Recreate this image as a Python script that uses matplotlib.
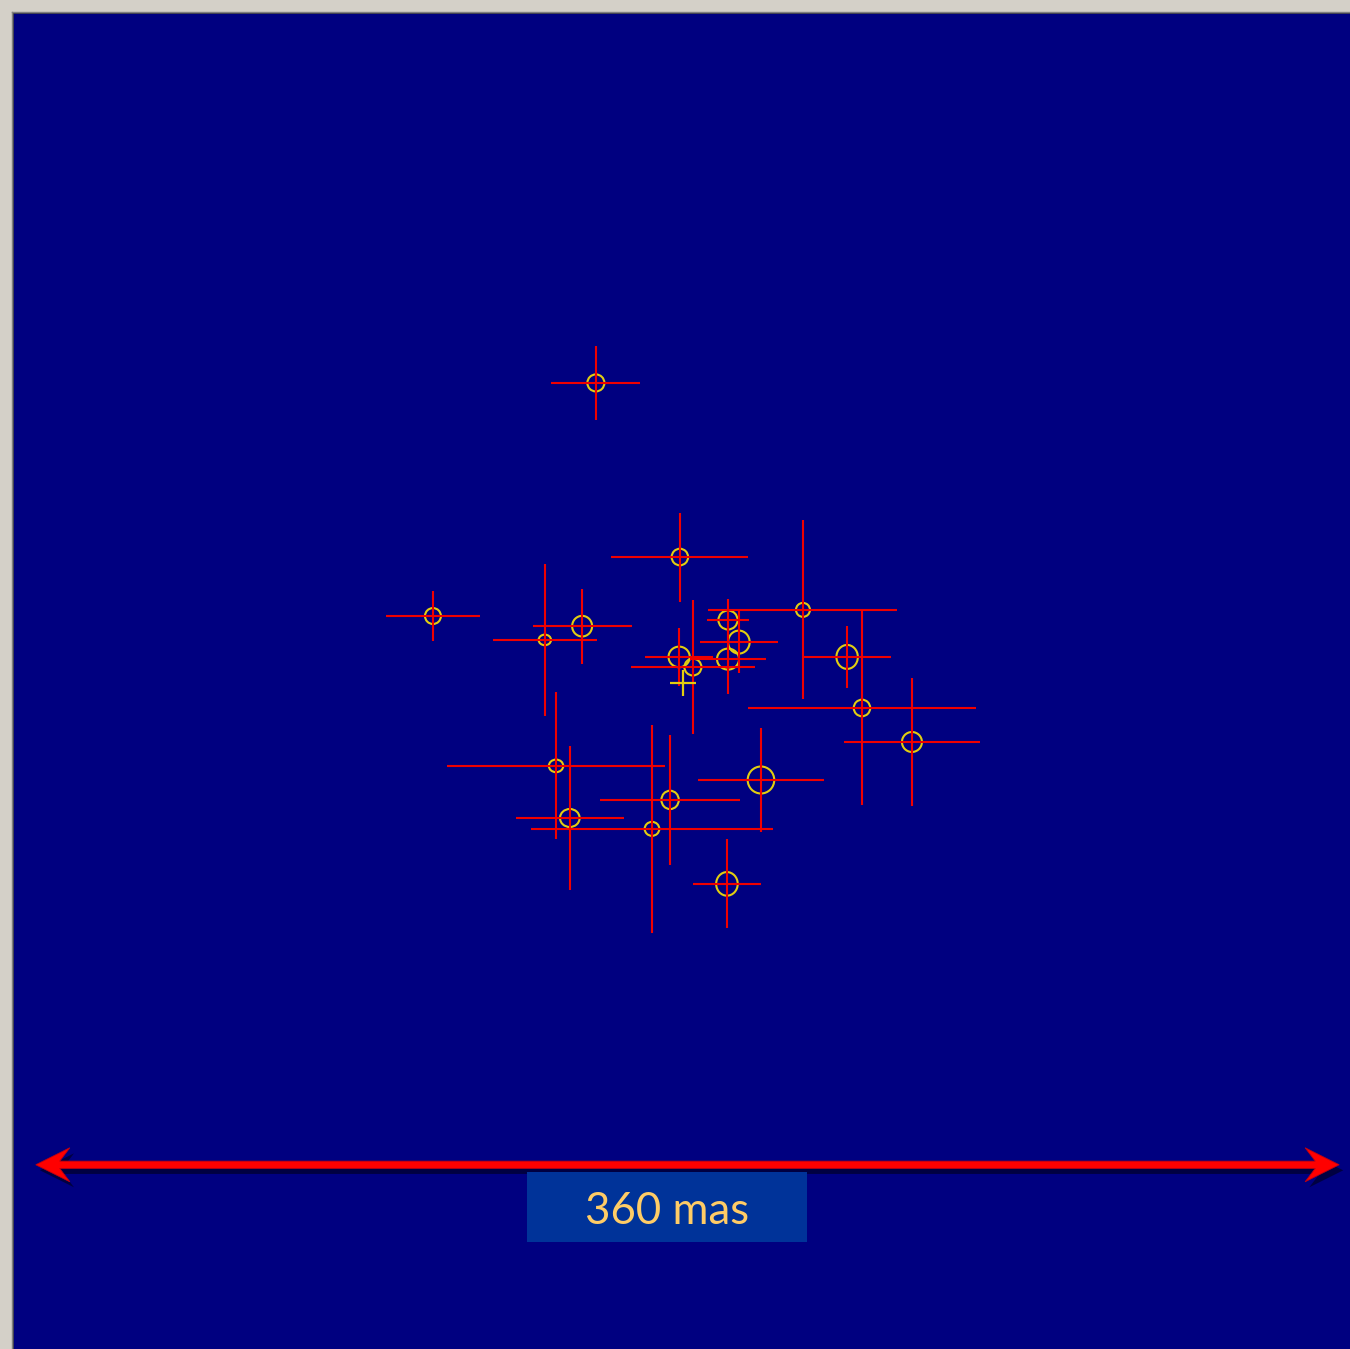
import matplotlib
matplotlib.use('Agg')
import matplotlib.pyplot as plt
from matplotlib.patches import Ellipse, Polygon, Rectangle
from matplotlib.lines import Line2D
import matplotlib.patheffects as pe
import numpy as np

# offsets of each component from the reference position, in mas
x_mas = [-24.2, -1.0, -69.2, -38.3, -28.0, 33.0, 12.3, 15.3, 12.3, -1.2,
         2.6, 45.2, 49.3, 63.1, -35.2, -31.4, -3.7, -8.7, 21.4, 12.0]
y_mas = [82.9, 34.8, 18.5, 11.9, 15.7, 20.2, 17.4, 11.3, 6.6, 7.2,
         4.4, 7.2, -6.9, -16.3, -22.9, -37.3, -32.3, -40.3, -26.8, -55.5]
x_err = [12.3, 18.9, 13.1, 14.4, 13.7, 26.1, 5.9, 10.8, 10.6, 9.4,
         17.1, 12.2, 31.4, 18.8, 30.0, 14.9, 19.3, 33.4, 17.3, 9.5]
y_err = [10.2, 12.3, 6.9, 21.0, 10.4, 24.7, 5.8, 8.6, 9.7, 8.1,
         18.6, 8.6, 26.7, 17.8, 20.3, 20.0, 18.0, 28.7, 14.4, 12.3]
# beam / circle semi-axes, mas
r_x = [2.35, 2.27, 2.2, 1.71, 2.76, 1.93, 2.65, 2.98, 3.04, 2.93,
       2.35, 2.96, 2.27, 2.76, 1.99, 2.71, 2.4, 2.02, 3.67, 2.98]
r_y = [2.35, 2.29, 2.2, 1.46, 2.85, 1.93, 2.62, 3.18, 2.9, 2.85,
       2.32, 3.31, 2.29, 2.76, 1.74, 2.49, 2.54, 1.93, 3.73, 3.26]

ref_pos = (0.0, 0.0)
scale_len = 360  # mas
scale_label = '360 mas'

navy = '#000080'
red = '#F00000'
yellow = '#E2CE10'

fig = plt.figure(figsize=(13.5, 13.49), dpi=100, facecolor='#D4D0C8')
W, H = 1350, 1349
ax = fig.add_axes([13 / W, 0, 1337 / W, 1336 / H])
ax.set_facecolor(navy)
ax.set_xlim(-185.2, 184.1)
ax.set_ylim(-184.0, 185.1)
ax.set_xticks([])
ax.set_yticks([])
for s in ('right', 'bottom'):
    ax.spines[s].set_visible(False)
for s in ('left', 'top'):
    ax.spines[s].set_color('#404040')
    ax.spines[s].set_linewidth(1.2)

# sunken panel edge
fig.add_artist(Line2D([11.5 / W, 11.5 / W], [0, 1 - 11.5 / H], color='#808080', lw=1.0))
fig.add_artist(Line2D([11.5 / W, 1], [1 - 11.5 / H, 1 - 11.5 / H], color='#808080', lw=1.0))

for x, y, rx, ry in zip(x_mas, y_mas, r_x, r_y):
    ax.add_patch(Ellipse((x, y), 2 * rx, 2 * ry, facecolor='none',
                         edgecolor=yellow, lw=1.5, zorder=3))

ax.errorbar(x_mas, y_mas, xerr=x_err, yerr=y_err, fmt='none',
            ecolor=red, elinewidth=1.5, capsize=0, zorder=4)

ax.plot(*ref_pos, marker='+', ms=19, mew=1.6, color=yellow, zorder=5)

# scale bar
bar_y = -133.1
bar_c = 1.1
x0, x1 = bar_c - scale_len / 2, bar_c + scale_len / 2
hl, hw, nt, sw = 9.4, 4.7, 6.6, 1.0
arrow = Polygon([
    (x0, bar_y), (x0 + hl, bar_y + hw), (x0 + nt, bar_y + sw),
    (x1 - nt, bar_y + sw), (x1 - hl, bar_y + hw), (x1, bar_y),
    (x1 - hl, bar_y - hw), (x1 - nt, bar_y - sw), (x0 + nt, bar_y - sw),
    (x0 + hl, bar_y - hw)], closed=True, facecolor='#FF0000',
    edgecolor='#C00010', lw=0.6, zorder=6)
arrow.set_path_effects([pe.SimplePatchShadow(offset=(3, -4), shadow_rgbFace='#000018',
                                             alpha=0.6), pe.Normal()])
ax.add_patch(arrow)

ax.add_patch(Rectangle((-43.2, -154.4), 77.3, 19.3, facecolor='#003399',
                       edgecolor='none', zorder=6))
ax.text(-4.4, -149.4, scale_label, color='#FFCC66', fontsize=31.5,
        family=['Lato', 'DejaVu Sans'], ha='center', va='baseline', zorder=7)

plt.savefig('out.png', dpi=100, facecolor=fig.get_facecolor())
